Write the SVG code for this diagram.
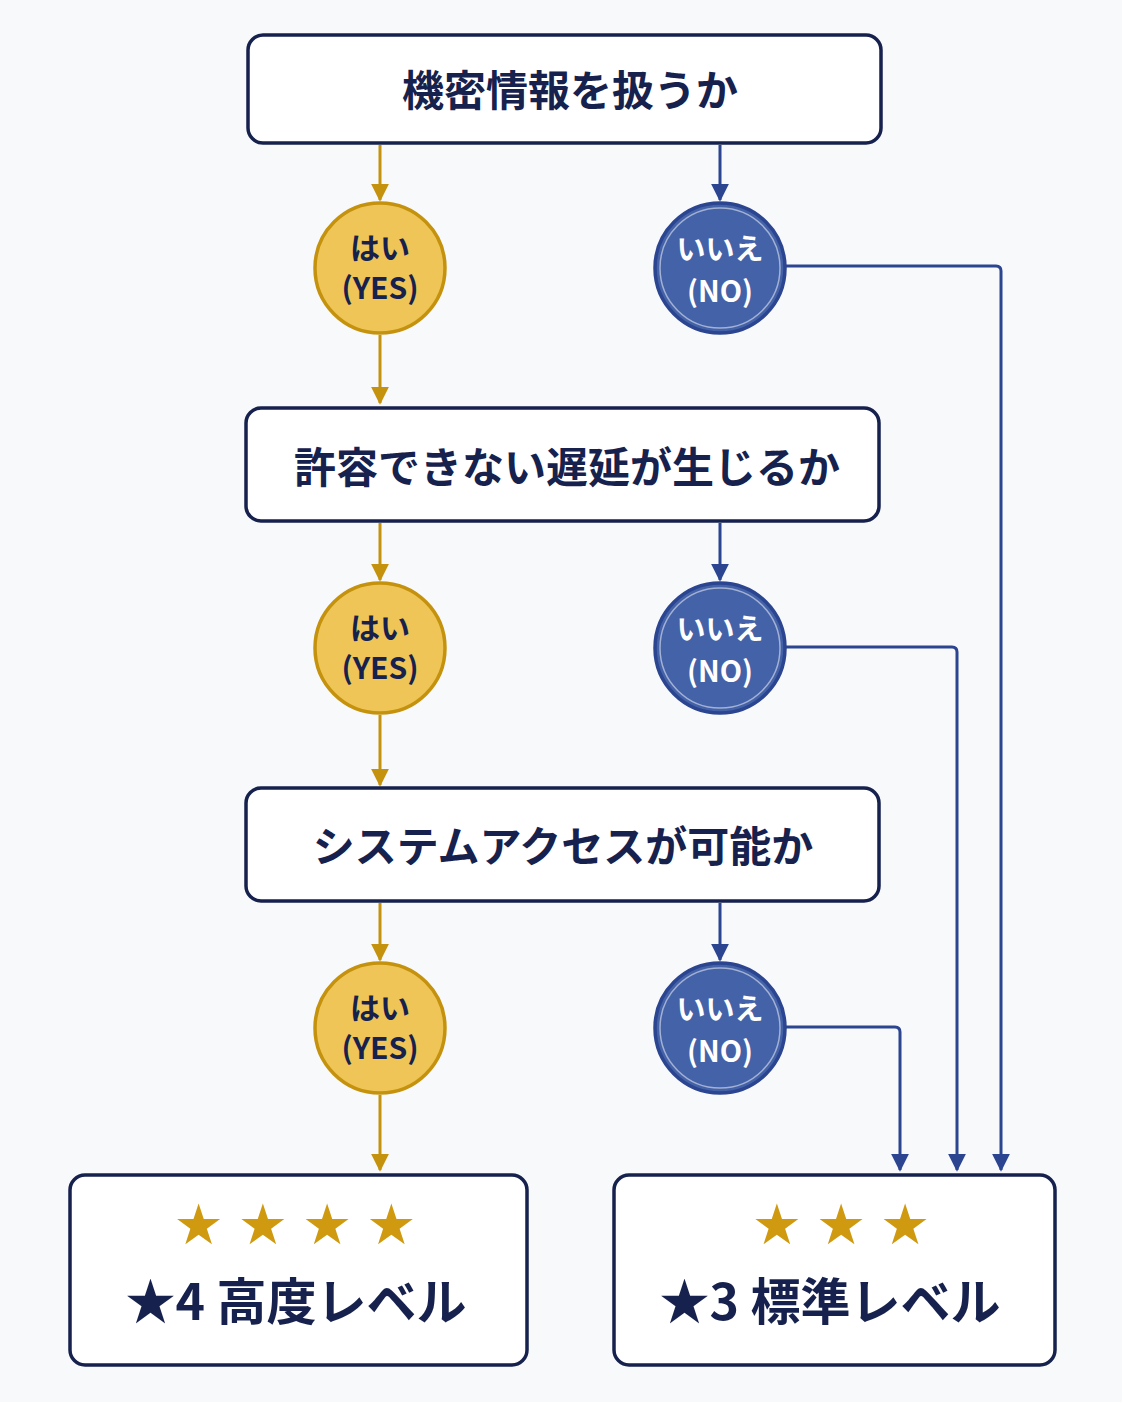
<svg xmlns="http://www.w3.org/2000/svg" width="1122" height="1402" viewBox="0 0 1122 1402">
<defs>
<style>
.box{fill:#fff;stroke:#16224d;stroke-width:3.5}
.q{font-family:"Noto Sans CJK JP","Noto Sans",sans-serif;font-weight:700;font-size:42px;fill:#16224d;text-anchor:middle}
.yc{fill:#efc557;stroke:#c5920e;stroke-width:3.5}
.nc{fill:#4462a8;stroke:#2b4590;stroke-width:3.5}
.yt{font-family:"Noto Sans CJK JP","Noto Sans",sans-serif;font-weight:700;font-size:30px;fill:#16224d;text-anchor:middle}
.nt{font-family:"Noto Sans CJK JP","Noto Sans",sans-serif;font-weight:700;font-size:29px;fill:#fff;text-anchor:middle}
.yl{stroke:#c5920e;stroke-width:3;fill:none}
.bl{stroke:#2b4590;stroke-width:3;fill:none}
.star{font-family:"DejaVu Sans",sans-serif;font-size:56px;fill:#d09a10;text-anchor:middle}
.lv{font-family:"Noto Sans CJK JP","Noto Sans",sans-serif;font-weight:700;font-size:50px;fill:#16224d;text-anchor:middle}
</style>
<marker id="ay" viewBox="0 0 10 10" refX="9" refY="5" markerWidth="6" markerHeight="6" orient="auto"><path d="M0,0L10,5L0,10z" fill="#c5920e"/></marker>
<marker id="ab" viewBox="0 0 10 10" refX="9" refY="5" markerWidth="6" markerHeight="6" orient="auto"><path d="M0,0L10,5L0,10z" fill="#2b4590"/></marker>
</defs>
<rect width="1122" height="1402" fill="#f8f9fb"/>
<g id="connectors">
<path class="yl" d="M380,145V200" marker-end="url(#ay)"/>
<path class="bl" d="M720,145V200" marker-end="url(#ab)"/>
<path class="yl" d="M380,335V403" marker-end="url(#ay)"/>
<path class="yl" d="M380,523V580" marker-end="url(#ay)"/>
<path class="bl" d="M720,523V580" marker-end="url(#ab)"/>
<path class="yl" d="M380,715V785" marker-end="url(#ay)"/>
<path class="yl" d="M380,903V960" marker-end="url(#ay)"/>
<path class="bl" d="M720,903V960" marker-end="url(#ab)"/>
<path class="yl" d="M380,1095V1170" marker-end="url(#ay)"/>
<path class="bl" d="M786,266H996Q1001,266 1001,271V1170" marker-end="url(#ab)"/>
<path class="bl" d="M786,647H952Q957,647 957,652V1170" marker-end="url(#ab)"/>
<path class="bl" d="M786,1027H895Q900,1027 900,1032V1170" marker-end="url(#ab)"/>
</g>
<g id="q1"><rect class="box" x="248" y="35" width="633" height="108" rx="15"/><text class="q" x="570" y="106">機密情報を扱うか</text></g>
<g id="yes1"><circle class="yc" cx="380" cy="268" r="65"/><text class="yt" x="380" y="259">はい</text><text class="yt" x="380" y="299">(YES)</text></g>
<g id="no1"><circle class="nc" cx="720" cy="268" r="65"/><circle cx="720" cy="268" r="60" fill="none" stroke="#fff" stroke-opacity="0.5" stroke-width="1.5"/><text class="nt" x="720" y="260">いいえ</text><text class="nt" x="720" y="302">(NO)</text></g>
<g id="q2"><rect class="box" x="246" y="408" width="633" height="113" rx="15"/><text class="q" x="567" y="483">許容できない遅延が生じるか</text></g>
<g id="yes2"><circle class="yc" cx="380" cy="648" r="65"/><text class="yt" x="380" y="639">はい</text><text class="yt" x="380" y="679">(YES)</text></g>
<g id="no2"><circle class="nc" cx="720" cy="648" r="65"/><circle cx="720" cy="648" r="60" fill="none" stroke="#fff" stroke-opacity="0.5" stroke-width="1.5"/><text class="nt" x="720" y="640">いいえ</text><text class="nt" x="720" y="682">(NO)</text></g>
<g id="q3"><rect class="box" x="246" y="788" width="633" height="113" rx="15"/><text class="q" x="563" y="862">システムアクセスが可能か</text></g>
<g id="yes3"><circle class="yc" cx="380" cy="1028" r="65"/><text class="yt" x="380" y="1019">はい</text><text class="yt" x="380" y="1059">(YES)</text></g>
<g id="no3"><circle class="nc" cx="720" cy="1028" r="65"/><circle cx="720" cy="1028" r="60" fill="none" stroke="#fff" stroke-opacity="0.5" stroke-width="1.5"/><text class="nt" x="720" y="1020">いいえ</text><text class="nt" x="720" y="1062">(NO)</text></g>
<g id="level4"><rect class="box" x="70" y="1175" width="457" height="190" rx="15"/><text class="star" x="302" y="1244" letter-spacing="14">★★★★</text><text class="lv" x="296" y="1320">★4 高度レベル</text></g>
<g id="level3"><rect class="box" x="614" y="1175" width="441" height="190" rx="15"/><text class="star" x="848" y="1244" letter-spacing="14">★★★</text><text class="lv" x="830" y="1320">★3 標準レベル</text></g>
</svg>
